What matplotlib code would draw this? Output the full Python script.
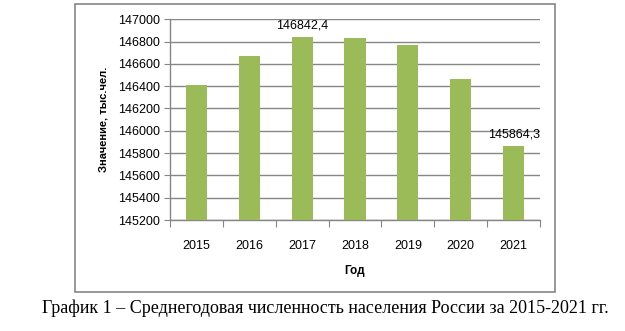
import matplotlib.pyplot as plt
from matplotlib.patches import Rectangle
import numpy as np

years = ["2015", "2016", "2017", "2018", "2019", "2020", "2021"]
population = [146406.3, 146674.5, 146842.4, 146830.6, 146764.7, 146459.8, 145864.3]
labeled = {2: "146842,4", 6: "145864,3"}
y_ticks = [145200, 145400, 145600, 145800, 146000, 146200, 146400, 146600, 146800, 147000]

gray = "#868686"
bar_color = "#9BBB59"

fig = plt.figure(figsize=(6.25, 3.31), dpi=100)
ax = fig.add_axes([0.272, 0.335, 0.592, 0.607])

# outer chart frame
fig.patches.append(Rectangle((0.12, 0.118), 0.768, 0.870, transform=fig.transFigure,
                             fill=False, edgecolor=gray, linewidth=1.2))

x = np.arange(len(years))
ax.bar(x, population, width=0.4, color=bar_color, zorder=3)

for i, txt in labeled.items():
    ax.text(x[i], population[i] + 45, txt, ha="center", va="bottom",
            fontsize=9, family="Liberation Sans")

ax.set_ylim(145200, 147000)
ax.set_xlim(-0.5, len(years) - 0.5)
ax.set_yticks(y_ticks)
ax.set_yticklabels([str(t) for t in y_ticks], family="Liberation Sans", fontsize=9)

# category boundaries as major ticks, labels on minor ticks
ax.set_xticks(np.arange(-0.5, len(years)))
ax.set_xticklabels([])
ax.set_xticks(x, minor=True)
ax.set_xticklabels(years, minor=True, family="Liberation Sans", fontsize=9)
ax.tick_params(axis="x", which="major", length=5, color=gray, direction="out")
ax.tick_params(axis="x", which="minor", length=0, pad=14)
ax.tick_params(axis="y", length=4, color=gray, pad=3)

ax.grid(axis="y", color=gray, linewidth=1, zorder=0)
for s in ["top", "right"]:
    ax.spines[s].set_visible(False)
for s in ["left", "bottom"]:
    ax.spines[s].set_color(gray)
    ax.spines[s].set_linewidth(1)

ax.set_xlabel("Год", fontsize=8.5, fontweight="bold", family="Liberation Sans", labelpad=10)
ax.set_ylabel("Значение, тыс.чел.", fontsize=8, fontweight="bold", family="Liberation Sans", labelpad=7)

fig.text(0.52, 0.068, "График 1 – Среднегодовая численность населения России за 2015-2021 гг.",
         ha="center", va="center", fontsize=13, family="Liberation Serif")

fig.savefig("out.png", dpi=100)
